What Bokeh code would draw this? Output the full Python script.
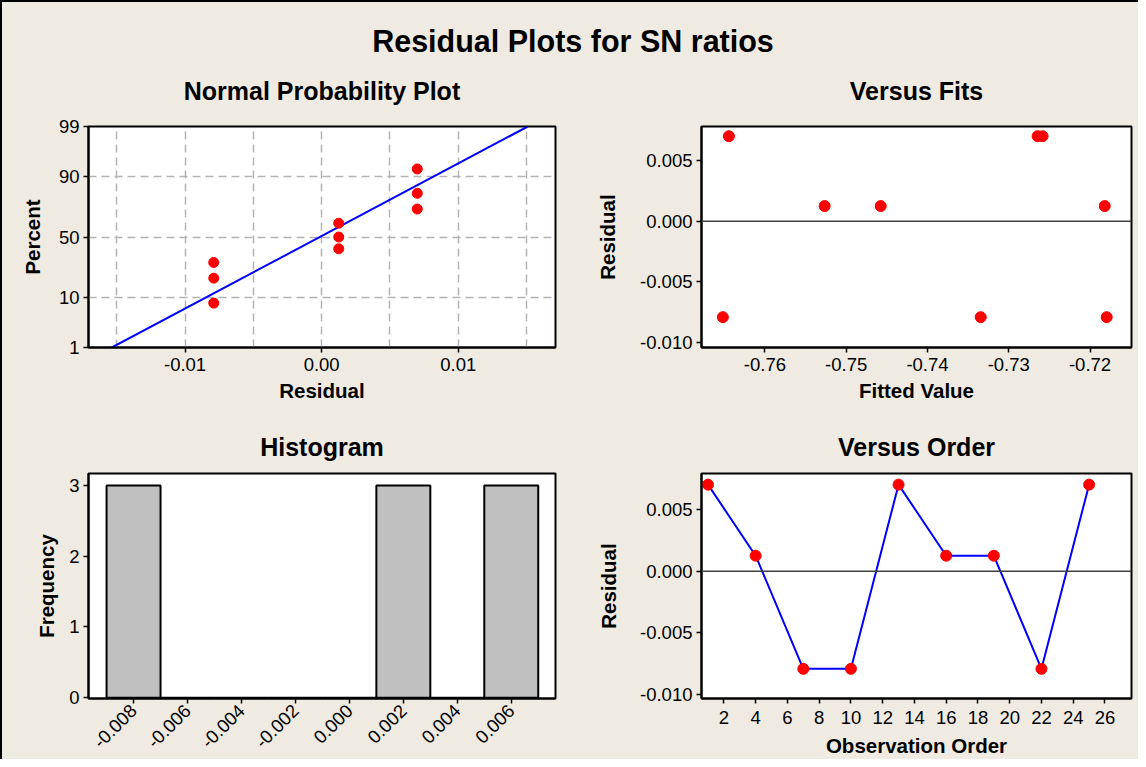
from statistics import NormalDist
from bokeh.plotting import figure
from bokeh.layouts import column, row
from bokeh.models import FixedTicker, Span, ColumnDataSource, Range1d, Title
from bokeh.core.properties import value
from bokeh.embed import file_html
from bokeh.resources import INLINE

BG = "#EFEBE2"
FONT = "Liberation Sans"

# ---------------- data ----------------
main_title = "Residual Plots for SN ratios"

npp_residual = [-0.0079, -0.0079, -0.0079, 0.00125, 0.00125, 0.00125, 0.0070, 0.0070, 0.0070]
npp_percent = [8.2, 19.3, 29.6, 40.2, 50.0, 61.4, 72.2, 82.1, 92.4]
npp_line_residual = [-0.01536, 0.01509]
npp_line_percent = [1.0, 99.0]
npp_percent_ticks = [1, 10, 50, 90, 99]
npp_percent_grid = [10, 50, 90]
npp_x_ticks = [-0.01, 0.0, 0.01]
npp_x_labels = ["-0.01", "0.00", "0.01"]
npp_x_grid = [-0.015, -0.01, -0.005, 0.0, 0.005, 0.01, 0.015]

fits_value = [-0.76517, -0.76443, -0.75265, -0.74575, -0.73345, -0.72645, -0.72584, -0.71819, -0.71795]
fits_residual = [-0.0079, 0.0070, 0.00125, 0.00125, -0.0079, 0.0070, 0.0070, 0.00125, -0.0079]
fits_x_ticks = [-0.76, -0.75, -0.74, -0.73, -0.72]
fits_x_labels = ["-0.76", "-0.75", "-0.74", "-0.73", "-0.72"]

resid_ticks = [0.005, 0.0, -0.005, -0.010]
resid_labels = ["0.005", "0.000", "-0.005", "-0.010"]

hist_bin_centers = [-0.008, -0.006, -0.004, -0.002, 0.000, 0.002, 0.004, 0.006]
hist_counts = [3, 0, 0, 0, 0, 3, 0, 3]
hist_bin_width = 0.002
hist_x_labels = ["-0.008", "-0.006", "-0.004", "-0.002", "0.000", "0.002", "0.004", "0.006"]
hist_y_ticks = [0, 1, 2, 3]

obs_order = [1, 4, 7, 10, 13, 16, 19, 22, 25]
obs_residual = [0.0070, 0.00125, -0.0079, -0.0079, 0.0070, 0.00125, 0.00125, -0.0079, 0.0070]
obs_x_ticks = [2, 4, 6, 8, 10, 12, 14, 16, 18, 20, 22, 24, 26]

nd = NormalDist()
def z(p):
    return nd.inv_cdf(p / 100.0)


def make_fig(title, width, height, xr, yr, bl, br, bt, bb, spacer_px,
             xt_standoff=5, xl_standoff=5, yl_standoff=12):
    p = figure(width=width, height=height, x_range=xr, y_range=yr,
               min_border_left=bl, min_border_right=br,
               min_border_top=bt, min_border_bottom=bb,
               toolbar_location=None, output_backend="svg", title=title)
    # thin empty title used only as vertical spacing between the title and the frame
    p.add_layout(Title(text=" ", text_font_size=f"{spacer_px}px", standoff=0,
                       text_color=BG), "above")
    p.background_fill_color = "white"
    p.border_fill_color = BG
    p.outline_line_color = "black"
    p.outline_line_width = 2
    p.outline_line_alpha = 1
    p.title.text_font = FONT
    p.title.text_font_size = "25px"
    p.title.text_font_style = "bold"
    p.title.align = "center"
    p.title.text_color = "black"
    for ax in (p.xaxis[0], p.yaxis[0]):
        ax.axis_line_color = "black"
        ax.axis_line_width = 2
        ax.major_tick_line_color = "black"
        ax.major_tick_line_width = 1.5
        ax.major_tick_out = 5
        ax.major_tick_in = 0
        ax.minor_tick_line_color = None
        ax.major_label_text_font = FONT
        ax.major_label_text_font_size = "18.5px"
        ax.major_label_text_color = "black"
        ax.axis_label_text_font = FONT
        ax.axis_label_text_font_size = "20.5px"
        ax.axis_label_text_font_style = "bold"
        ax.axis_label_text_color = "black"
    p.xaxis[0].major_label_standoff = xt_standoff
    p.yaxis[0].major_label_standoff = 4
    p.xaxis[0].axis_label_standoff = xl_standoff
    p.yaxis[0].axis_label_standoff = yl_standoff
    p.xgrid.visible = False
    p.ygrid.visible = False
    return p


# ---------------- main title ----------------
p0 = figure(width=1136, height=64, x_range=Range1d(0, 1136), y_range=Range1d(0, 64),
            min_border=0, toolbar_location=None, output_backend="svg")
p0.axis.visible = False
p0.grid.visible = False
p0.outline_line_color = None
p0.background_fill_color = BG
p0.border_fill_color = BG
p0.text(x=[570.5], y=[25.5], text=[main_title], text_font=value(FONT),
        text_font_size="30.5px", text_font_style="bold", text_align="center",
        text_baseline="middle", text_color="black")

# ---------------- normal probability plot ----------------
p1 = make_fig("Normal Probability Plot", 560, 347,
              Range1d(-0.01707, 0.01712), Range1d(z(1), z(99)),
              86, 7, 60, 66, 13.5, xt_standoff=5, xl_standoff=5, yl_standoff=12)
p1.xaxis.axis_label = "Residual"
p1.yaxis.axis_label = "Percent"
p1.xaxis.ticker = FixedTicker(ticks=npp_x_ticks)
p1.xaxis.major_label_overrides = {t: l for t, l in zip(npp_x_ticks, npp_x_labels)}
p1.yaxis.ticker = FixedTicker(ticks=[z(v) for v in npp_percent_ticks])
p1.yaxis.major_label_overrides = {z(v): str(v) for v in npp_percent_ticks}
p1.xgrid.visible = True
p1.ygrid.visible = True
p1.xgrid.ticker = FixedTicker(ticks=npp_x_grid)
p1.ygrid.ticker = FixedTicker(ticks=[z(v) for v in npp_percent_grid])
for g in (p1.xgrid[0], p1.ygrid[0]):
    g.grid_line_color = "#B4B4B4"
    g.grid_line_width = 1.5
    g.grid_line_dash = "8 5"
p1.line(x=npp_line_residual, y=[z(v) for v in npp_line_percent],
        line_color="#0000FF", line_width=2)
p1.scatter(x=npp_residual, y=[z(v) for v in npp_percent], size=10,
           fill_color="#FF0000", line_color="#FF0000")

# ---------------- versus fits ----------------
p2 = make_fig("Versus Fits", 576, 347,
              Range1d(-0.7678, -0.7149), Range1d(-0.0104, 0.0078),
              139, 7, 60, 66, 13.5, xt_standoff=5, xl_standoff=5, yl_standoff=18)
p2.xaxis.axis_label = "Fitted Value"
p2.yaxis.axis_label = "Residual"
p2.xaxis.ticker = FixedTicker(ticks=fits_x_ticks)
p2.xaxis.major_label_overrides = {t: l for t, l in zip(fits_x_ticks, fits_x_labels)}
p2.yaxis.ticker = FixedTicker(ticks=resid_ticks)
p2.yaxis.major_label_overrides = {t: l for t, l in zip(resid_ticks, resid_labels)}
p2.add_layout(Span(location=0, dimension="width", line_color="#404040", line_width=1.5))
p2.scatter(x=fits_value, y=fits_residual, size=11, fill_color="#FF0000", line_color="#FF0000")

# ---------------- histogram ----------------
p3 = make_fig("Histogram", 560, 346,
              Range1d(-0.00967, 0.00764), Range1d(-0.012, 3.17),
              86, 7, 60, 57, 6, xt_standoff=4, xl_standoff=5, yl_standoff=8)
p3.yaxis.axis_label = "Frequency"
p3.xaxis.ticker = FixedTicker(ticks=hist_bin_centers)
p3.xaxis.major_label_overrides = {t: l for t, l in zip(hist_bin_centers, hist_x_labels)}
p3.xaxis.major_label_orientation = 0.785398
p3.yaxis.ticker = FixedTicker(ticks=hist_y_ticks)
hsrc = ColumnDataSource(dict(x=hist_bin_centers, top=hist_counts))
p3.vbar(x="x", top="top", bottom=0, width=hist_bin_width, source=hsrc,
        fill_color="#C0C0C0", line_color="black", line_width=2)

# ---------------- versus order ----------------
p4 = make_fig("Versus Order", 576, 346,
              Range1d(0.59, 27.67), Range1d(-0.0103, 0.0079),
              139, 7, 60, 57, 6, xt_standoff=7, xl_standoff=7, yl_standoff=17)
p4.xaxis.axis_label = "Observation Order"
p4.yaxis.axis_label = "Residual"
p4.xaxis.ticker = FixedTicker(ticks=obs_x_ticks)
p4.yaxis.ticker = FixedTicker(ticks=resid_ticks)
p4.yaxis.major_label_overrides = {t: l for t, l in zip(resid_ticks, resid_labels)}
p4.add_layout(Span(location=0, dimension="width", line_color="#404040", line_width=1.5))
p4.line(x=obs_order, y=obs_residual, line_color="#0000FF", line_width=2)
p4.scatter(x=obs_order, y=obs_residual, size=11, fill_color="#FF0000", line_color="#FF0000")

layout = column(p0, row(p1, p2), row(p3, p4),
                styles={"border-top": "2px solid black", "border-left": "2px solid black",
                        "background-color": BG})

open("out.html", "w").write(file_html(layout, INLINE))
